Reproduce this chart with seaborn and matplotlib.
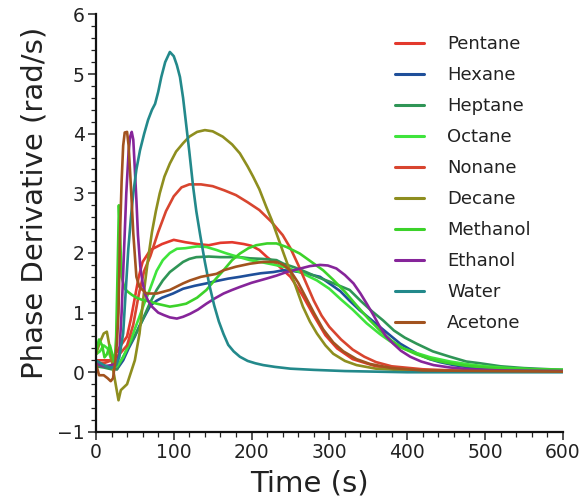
import matplotlib
matplotlib.use("Agg")
import matplotlib.pyplot as plt
from matplotlib.ticker import MultipleLocator
import numpy as np
import pandas as pd
import seaborn as sns

solvents = ["Pentane", "Hexane", "Heptane", "Octane", "Nonane",
            "Decane", "Methanol", "Ethanol", "Water", "Acetone"]
colors = ["#e3392d", "#1f4f9a", "#2f9556", "#3fe43c", "#d8452f",
          "#8e8e1f", "#3cd22a", "#86259a", "#23898b", "#a2531f"]

# phase derivative traces (time in s, value in rad/s)
pentane_t = [0, 10, 20, 25, 32, 40, 45, 50, 55, 60, 70, 85, 100, 115, 130, 145, 160, 175, 190, 200,
             210, 220, 235, 250, 265, 280, 295, 310, 330, 360, 400, 450, 500, 600]
pentane_v = [0.2, 0.2, 0.2, 0.3, 0.45, 0.6, 0.9, 1.25, 1.6, 1.85, 2.05, 2.15, 2.22, 2.18, 2.15, 2.13,
             2.17, 2.18, 2.15, 2.12, 2.05, 1.93, 1.78, 1.6, 1.3, 0.95, 0.62, 0.4, 0.22, 0.1, 0.04, 0.02,
             0.01, 0.01]

hexane_t = [0, 10, 20, 27, 35, 42, 50, 56, 63, 70, 78, 85, 99, 112, 127, 142, 155, 170, 185, 198,
            212, 228, 241, 252, 262, 275, 288, 301, 314, 326, 339, 352, 365, 378, 391, 404, 416,
            429, 442, 460, 480, 510, 550, 600]
hexane_v = [0.15, 0.1, 0.08, 0.05, 0.2, 0.4, 0.6, 0.78, 0.95, 1.12, 1.2, 1.25, 1.32, 1.4, 1.45, 1.49,
            1.53, 1.57, 1.6, 1.63, 1.66, 1.68, 1.71, 1.7, 1.68, 1.64, 1.6, 1.48, 1.36, 1.2, 1.04, 0.9,
            0.76, 0.62, 0.48, 0.38, 0.29, 0.22, 0.17, 0.12, 0.08, 0.05, 0.03, 0.02]

heptane_t = [0, 10, 20, 27, 35, 45, 56, 63, 69, 78, 86, 95, 104, 112, 120, 129, 145, 160, 175, 185,
             198, 215, 232, 241, 255, 270, 284, 300, 313, 326, 340, 355, 369, 383, 397, 412, 433,
             455, 476, 494, 520, 550, 600]
heptane_v = [0.1, 0.08, 0.05, 0.05, 0.26, 0.5, 0.76, 0.97, 1.15, 1.38, 1.54, 1.68, 1.77, 1.85, 1.9,
             1.93, 1.94, 1.93, 1.93, 1.93, 1.91, 1.9, 1.88, 1.82, 1.76, 1.68, 1.6, 1.52, 1.45, 1.38,
             1.2, 1.02, 0.87, 0.7, 0.58, 0.48, 0.35, 0.26, 0.18, 0.15, 0.1, 0.07, 0.04]

octane_t = [0, 5, 10, 15, 20, 27, 35, 45, 55, 62, 69, 78, 86, 95, 104, 115, 130, 142, 155, 166, 176,
            187, 198, 215, 230, 241, 262, 284, 300, 315, 330, 348, 365, 378, 391, 410, 430, 455,
            480, 500, 530, 560, 600]
octane_v = [0.3, 0.35, 0.45, 0.4, 0.2, 0.1, 0.25, 0.55, 0.9, 1.15, 1.38, 1.7, 1.88, 2.0, 2.07, 2.08,
            2.11, 2.1, 2.05, 2.0, 1.96, 1.92, 1.88, 1.84, 1.8, 1.77, 1.68, 1.54, 1.4, 1.22, 1.05,
            0.82, 0.64, 0.52, 0.42, 0.33, 0.25, 0.18, 0.13, 0.1, 0.07, 0.05, 0.04]

nonane_t = [0, 10, 20, 30, 40, 48, 55, 62, 70, 80, 90, 100, 110, 120, 135, 150, 165, 180, 195, 210,
            225, 240, 250, 260, 270, 280, 290, 300, 315, 330, 345, 360, 380, 420, 480, 600]
nonane_v = [0.15, 0.15, 0.2, 0.3, 0.45, 0.8, 1.3, 1.7, 1.95, 2.35, 2.7, 2.95, 3.1, 3.15, 3.15, 3.12,
            3.05, 2.97, 2.85, 2.72, 2.53, 2.3, 2.08, 1.8, 1.5, 1.2, 0.95, 0.76, 0.55, 0.38, 0.26,
            0.17, 0.1, 0.05, 0.02, 0.01]

decane_t = [0, 5, 10, 14, 18, 22, 26, 29, 32, 36, 40, 45, 50, 56, 63, 67, 72, 77, 82, 88, 95, 103,
            112, 120, 130, 140, 150, 163, 175, 185, 195, 202, 210, 219, 226, 232, 241, 248, 254,
            260, 266, 275, 284, 295, 305, 320, 335, 360, 400, 450, 600]
decane_v = [0.3, 0.5, 0.65, 0.68, 0.4, 0.05, -0.25, -0.47, -0.3, -0.25, -0.2, 0.0, 0.2, 0.65, 1.49,
            1.9, 2.35, 2.7, 3.0, 3.28, 3.5, 3.7, 3.84, 3.95, 4.03, 4.06, 4.04, 3.95, 3.82, 3.67,
            3.45, 3.28, 3.07, 2.77, 2.55, 2.33, 2.0, 1.75, 1.54, 1.32, 1.1, 0.85, 0.65, 0.45, 0.31,
            0.19, 0.12, 0.06, 0.03, 0.01, 0.01]

methanol_t = [0, 4, 8, 11, 14, 18, 21, 24, 26, 28, 29.5, 31, 33, 37, 41, 46, 52, 58, 65, 78, 95, 105,
              116, 130, 142, 153, 164, 175, 185, 196, 206, 220, 232, 245, 262, 277, 292, 305, 320,
              335, 350, 365, 380, 395, 412, 430, 450, 475, 500, 530, 560, 600]
methanol_v = [0.35, 0.55, 0.45, 0.25, 0.3, 0.45, 0.3, 0.15, 0.6, 1.8, 2.8, 2.3, 1.6, 1.4, 1.35, 1.3,
              1.25, 1.22, 1.2, 1.15, 1.1, 1.12, 1.15, 1.25, 1.38, 1.55, 1.71, 1.88, 1.99, 2.08, 2.13,
              2.16, 2.16, 2.1, 1.99, 1.85, 1.71, 1.55, 1.35, 1.12, 0.9, 0.7, 0.53, 0.4, 0.3, 0.22,
              0.16, 0.11, 0.08, 0.06, 0.05, 0.04]

ethanol_t = [0, 10, 20, 26, 30, 33, 36, 39, 42, 44, 46, 48, 50, 52, 54, 57, 60, 63, 67, 72, 80, 87,
             95, 104, 112, 121, 131, 142, 153, 164, 175, 185, 200, 219, 232, 245, 260, 275, 288,
             298, 309, 320, 331, 340, 348, 357, 365, 373, 382, 392, 404, 418, 434, 455, 480, 520,
             600]
ethanol_v = [0.15, 0.1, 0.12, 0.15, 0.3, 1.0, 2.0, 3.0, 3.7, 3.95, 4.03, 3.9, 3.4, 2.89, 2.3, 1.77,
             1.5, 1.32, 1.2, 1.1, 1.0, 0.96, 0.92, 0.9, 0.93, 0.98, 1.05, 1.15, 1.24, 1.32, 1.38,
             1.43, 1.5, 1.57, 1.62, 1.68, 1.73, 1.78, 1.8, 1.79, 1.74, 1.63, 1.49, 1.32, 1.15, 0.95,
             0.76, 0.6, 0.48, 0.36, 0.26, 0.18, 0.12, 0.08, 0.05, 0.03, 0.02]

water_t = [0, 10, 18, 22, 26, 30, 35, 38, 41.5, 45, 48, 52, 56.6, 62, 67, 72, 76, 80, 84, 89, 95,
           100, 104, 108, 112, 116, 120, 125, 129, 134, 140, 146, 152, 158, 164, 170, 177, 185,
           195, 205, 215, 230, 250, 280, 320, 360, 400, 600]
water_v = [0.2, 0.12, 0.08, 0.08, 0.12, 0.25, 0.65, 1.3, 2.05, 2.6, 3.0, 3.4, 3.72, 4.0, 4.23, 4.4,
           4.5, 4.7, 4.95, 5.2, 5.37, 5.3, 5.15, 4.95, 4.6, 4.15, 3.7, 3.1, 2.7, 2.3, 1.85, 1.45,
           1.12, 0.85, 0.64, 0.46, 0.35, 0.26, 0.19, 0.15, 0.12, 0.09, 0.06, 0.04, 0.02, 0.01, 0.0,
           0.0]

acetone_t = [0, 4, 10, 15, 19, 22, 25, 27, 29, 31, 33, 35, 37, 40, 42, 45, 48, 52, 56, 60, 65, 78,
             95, 112, 121, 135, 155, 164, 180, 198, 215, 232, 241, 250, 260, 270, 280, 292, 305,
             318, 335, 352, 380, 420, 600]
acetone_v = [0.15, -0.05, -0.05, -0.1, -0.15, -0.1, 0.2, 0.5, 1.0, 2.33, 3.2, 3.8, 4.02, 4.03, 3.8,
             3.1, 2.33, 1.6, 1.43, 1.38, 1.32, 1.32, 1.38, 1.49, 1.54, 1.6, 1.65, 1.71, 1.77, 1.82,
             1.85, 1.85, 1.8, 1.7, 1.5, 1.25, 1.0, 0.72, 0.5, 0.35, 0.22, 0.14, 0.07, 0.03, 0.01]

series = {
    "Pentane": (pentane_t, pentane_v),
    "Hexane": (hexane_t, hexane_v),
    "Heptane": (heptane_t, heptane_v),
    "Octane": (octane_t, octane_v),
    "Nonane": (nonane_t, nonane_v),
    "Decane": (decane_t, decane_v),
    "Methanol": (methanol_t, methanol_v),
    "Ethanol": (ethanol_t, ethanol_v),
    "Water": (water_t, water_v),
    "Acetone": (acetone_t, acetone_v),
}

frames = [pd.DataFrame({"Time": t, "Phase": v, "Solvent": name})
          for name, (t, v) in series.items()]
df = pd.concat(frames, ignore_index=True)

sns.set_style("ticks")
plt.rcParams["font.family"] = ["DejaVu Sans"]

fig = plt.figure(figsize=(5.85, 4.97), dpi=100)
ax = fig.add_axes([0.164, 0.131, 0.798, 0.840])

sns.lineplot(data=df, x="Time", y="Phase", hue="Solvent", hue_order=solvents,
             palette=dict(zip(solvents, colors)), sort=False, estimator=None,
             linewidth=1.9, ax=ax)

ax.set_xlim(0, 600)
ax.set_ylim(-1, 6)
ax.xaxis.set_major_locator(MultipleLocator(100))
ax.xaxis.set_minor_locator(MultipleLocator(20))
ax.yaxis.set_major_locator(MultipleLocator(1))
ax.yaxis.set_minor_locator(MultipleLocator(0.2))
ax.tick_params(which="major", direction="out", length=6, width=1.1, labelsize=13.5,
               colors="#222222", pad=2)
ax.tick_params(which="minor", direction="out", length=3.5, width=0.9, colors="#222222")
ax.set_yticks([-1, 0, 1, 2, 3, 4, 5, 6])
ax.set_yticklabels(["\u22121", "0", "1", "2", "3", "4", "5", "6"])

for side in ("top", "right"):
    ax.spines[side].set_visible(False)
for side in ("left", "bottom"):
    ax.spines[side].set_linewidth(1.6)
    ax.spines[side].set_color("#111111")

ax.set_xlabel("Time (s)", fontsize=21, color="#222222")
ax.set_ylabel("Phase Derivative (rad/s)", fontsize=21, color="#222222")
ax.xaxis.set_label_coords(0.458, -0.09)
ax.yaxis.set_label_coords(-0.101, 0.548)

handles, labels = ax.get_legend_handles_labels()
leg = ax.legend(handles, labels, loc="upper left", bbox_to_anchor=(0.625, 0.968),
                frameon=False, fontsize=13, handlelength=1.6, handletextpad=1.3,
                labelspacing=0.72, borderaxespad=0)
for line in leg.get_lines():
    line.set_linewidth(2.2)
for txt in leg.get_texts():
    txt.set_color("#222222")

fig.savefig("out.png", dpi=100, facecolor="white")
